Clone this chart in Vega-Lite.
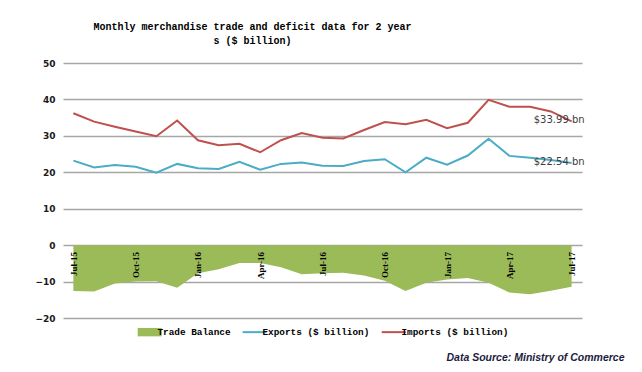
{
  "$schema": "https://vega.github.io/schema/vega-lite/v6.json",
  "width": 519,
  "height": 255,
  "autosize": {"type": "none"},
  "padding": {"left": 63, "top": 63, "right": 60, "bottom": 54},
  "background": "white",
  "title": {
    "text": ["Monthly merchandise trade and deficit data for 2 year", "s ($ billion)"],
    "font": "Liberation Mono",
    "fontSize": 10,
    "fontWeight": "bold",
    "color": "#000000",
    "anchor": "middle",
    "frame": "group",
    "dx": -70,
    "offset": 13,
    "lineHeight": 14
  },
  "config": {
    "view": {"stroke": null},
    "axisY": {
      "title": null,
      "grid": true,
      "gridColor": "#a6a6a6",
      "gridWidth": 1.3,
      "domain": false,
      "ticks": false,
      "labelPadding": 8,
      "labelFont": "DejaVu Sans",
      "labelFontWeight": "bold",
      "labelFontSize": 9,
      "labelColor": "#1a1a1a",
      "labelOverlap": false
    }
  },
  "data": {
    "values": [
      {"month": "Jul-15", "exports": 23.2, "imports": 36.2, "balance": -12.6},
      {"month": "Aug-15", "exports": 21.3, "imports": 33.9, "balance": -12.7},
      {"month": "Sep-15", "exports": 22.0, "imports": 32.5, "balance": -10.5},
      {"month": "Oct-15", "exports": 21.5, "imports": 31.2, "balance": -10.0},
      {"month": "Nov-15", "exports": 19.9, "imports": 29.9, "balance": -9.9},
      {"month": "Dec-15", "exports": 22.3, "imports": 34.2, "balance": -11.7},
      {"month": "Jan-16", "exports": 21.1, "imports": 28.8, "balance": -7.7},
      {"month": "Feb-16", "exports": 20.9, "imports": 27.4, "balance": -6.6},
      {"month": "Mar-16", "exports": 22.9, "imports": 27.8, "balance": -4.9},
      {"month": "Apr-16", "exports": 20.7, "imports": 25.5, "balance": -4.9},
      {"month": "May-16", "exports": 22.3, "imports": 28.8, "balance": -6.1},
      {"month": "Jun-16", "exports": 22.7, "imports": 30.8, "balance": -8.0},
      {"month": "Jul-16", "exports": 21.8, "imports": 29.5, "balance": -7.7},
      {"month": "Aug-16", "exports": 21.7, "imports": 29.3, "balance": -7.6},
      {"month": "Sep-16", "exports": 23.1, "imports": 31.6, "balance": -8.3},
      {"month": "Oct-16", "exports": 23.6, "imports": 33.8, "balance": -9.8},
      {"month": "Nov-16", "exports": 20.0, "imports": 33.2, "balance": -12.6},
      {"month": "Dec-16", "exports": 24.0, "imports": 34.4, "balance": -10.3},
      {"month": "Jan-17", "exports": 22.1, "imports": 32.1, "balance": -9.4},
      {"month": "Feb-17", "exports": 24.6, "imports": 33.6, "balance": -9.0},
      {"month": "Mar-17", "exports": 29.2, "imports": 39.9, "balance": -10.3},
      {"month": "Apr-17", "exports": 24.5, "imports": 38.0, "balance": -13.0},
      {"month": "May-17", "exports": 24.0, "imports": 38.0, "balance": -13.5},
      {"month": "Jun-17", "exports": 23.4, "imports": 36.7, "balance": -12.5},
      {"month": "Jul-17", "exports": 22.54, "imports": 33.99, "balance": -11.45}
    ]
  },
  "encoding": {
    "x": {
      "field": "month",
      "type": "ordinal",
      "sort": null,
      "scale": {"type": "point", "padding": 0.5},
      "axis": {
        "values": ["Jul-15", "Oct-15", "Jan-16", "Apr-16", "Jul-16", "Oct-16", "Jan-17", "Apr-17", "Jul-17"],
        "labelAngle": -90,
        "labelFont": "Liberation Serif",
        "labelFontWeight": "bold",
        "labelFontSize": 9,
        "labelColor": "#000000",
        "labelPadding": 6,
        "labelOverlap": false,
        "ticks": false,
        "tickSize": 0,
        "domain": false,
        "grid": false,
        "zindex": 2,
        "offset": -72.6,
        "title": "Data Source: Ministry of Commerce",
        "titleFont": "Liberation Sans",
        "titleFontStyle": "italic",
        "titleFontWeight": "bold",
        "titleFontSize": 10.5,
        "titleColor": "#1c1c3c",
        "titleAlign": "right",
        "titleBaseline": "alphabetic",
        "titleX": 561,
        "titleY": 115
      }
    },
    "color": {
      "type": "nominal",
      "scale": {
        "domain": ["Trade Balance", "Exports ($ billion)", "Imports ($ billion)"],
        "range": ["#9bbb59", "#4bacc6", "#c0504d"]
      },
      "legend": {
        "orient": "none",
        "direction": "horizontal",
        "legendX": 82,
        "legendY": 264,
        "title": null,
        "symbolSize": 576,
        "symbolType": "M-1,-0.35H1V0.35H-1Z",
        "columnPadding": 7,
        "labelOffset": 3,
        "labelFont": "Liberation Mono",
        "labelFontWeight": "bold",
        "labelFontSize": 9.4,
        "labelColor": "#000000",
        "encode": {
          "symbols": {
            "update": {
              "shape": {"signal": "datum.value === 'Trade Balance' ? 'M-1,-0.35H1V0.35H-1Z' : 'M-1,0H1'"},
              "fill": {"signal": "datum.value === 'Trade Balance' ? '#9bbb59' : 'transparent'"},
              "stroke": {"signal": "datum.value === 'Trade Balance' ? '#9bbb59' : (datum.value === 'Exports ($ billion)' ? '#4bacc6' : '#c0504d')"},
              "strokeWidth": {"signal": "datum.value === 'Trade Balance' ? 0 : 2"},
              "opacity": {"value": 1}
            }
          }
        }
      }
    }
  },
  "layer": [
    {
      "mark": {"type": "area", "opacity": 1},
      "encoding": {
        "y": {
          "field": "balance",
          "type": "quantitative",
          "stack": null,
          "scale": {"domain": [-20, 50], "nice": false},
          "axis": {"values": [-20, -10, 0, 10, 20, 30, 40, 50]}
        },
        "color": {"datum": "Trade Balance"}
      }
    },
    {
      "mark": {"type": "line", "strokeWidth": 2},
      "encoding": {
        "y": {
          "field": "exports",
          "type": "quantitative",
          "scale": {"domain": [-20, 50], "nice": false},
          "axis": {"values": [-20, -10, 0, 10, 20, 30, 40, 50]}
        },
        "color": {"datum": "Exports ($ billion)"}
      }
    },
    {
      "mark": {"type": "line", "strokeWidth": 2},
      "encoding": {
        "y": {
          "field": "imports",
          "type": "quantitative",
          "scale": {"domain": [-20, 50], "nice": false},
          "axis": {"values": [-20, -10, 0, 10, 20, 30, 40, 50]}
        },
        "color": {"datum": "Imports ($ billion)"}
      }
    },
    {
      "transform": [{"filter": "datum.month === 'Jul-17'"}],
      "mark": {"type": "text", "align": "right", "baseline": "middle", "dx": 13, "dy": -1, "font": "DejaVu Sans", "fontSize": 10},
      "encoding": {
        "y": {
          "field": "imports",
          "type": "quantitative",
          "scale": {"domain": [-20, 50], "nice": false},
          "axis": {"values": [-20, -10, 0, 10, 20, 30, 40, 50]}
        },
        "text": {"value": "$33.99 bn"},
        "color": {"value": "#404040"}
      }
    },
    {
      "transform": [{"filter": "datum.month === 'Jul-17'"}],
      "mark": {"type": "text", "align": "right", "baseline": "middle", "dx": 13, "dy": -1, "font": "DejaVu Sans", "fontSize": 10},
      "encoding": {
        "y": {
          "field": "exports",
          "type": "quantitative",
          "scale": {"domain": [-20, 50], "nice": false},
          "axis": {"values": [-20, -10, 0, 10, 20, 30, 40, 50]}
        },
        "text": {"value": "$22.54 bn"},
        "color": {"value": "#404040"}
      }
    }
  ]
}
